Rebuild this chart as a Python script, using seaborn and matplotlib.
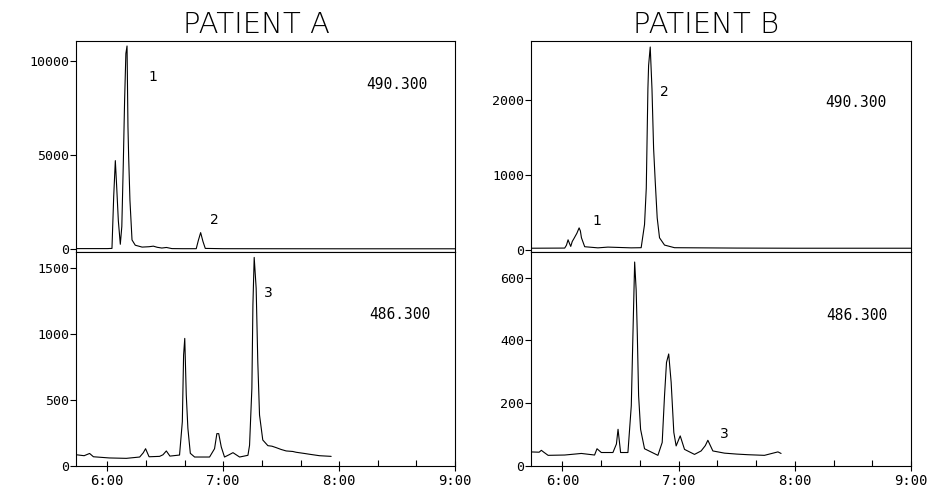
import numpy as np
import pandas as pd
import matplotlib
matplotlib.use("Agg")
import matplotlib.pyplot as plt
from matplotlib.ticker import FixedLocator, MultipleLocator
import seaborn as sns

# -----------------------------
# chromatogram traces (time in minutes, intensity in counts)
# -----------------------------
a490_time = [5.733, 6.00, 6.040, 6.055, 6.069, 6.080, 6.095, 6.112, 6.125, 6.138,
             6.149, 6.160, 6.170, 6.178, 6.184, 6.195, 6.213, 6.241, 6.30, 6.36,
             6.397, 6.43, 6.47, 6.51, 6.557, 6.65, 6.767, 6.785, 6.805, 6.825,
             6.845, 7.0, 8.0, 9.0]
a490_signal = [20, 20, 30, 2800, 4700, 3400, 1500, 250, 1200, 4600,
               7900, 10400, 10800, 6500, 4900, 2600, 480, 200, 100, 120,
               150, 90, 50, 80, 20, 15, 15, 450, 870, 400,
               30, 15, 10, 10]

a486_time = [5.733, 5.80, 5.847, 5.88, 6.017, 6.164, 6.279, 6.31, 6.33, 6.36,
             6.451, 6.48, 6.509, 6.54, 6.623, 6.647, 6.658, 6.668, 6.681, 6.695,
             6.716, 6.753, 6.882, 6.925, 6.945, 6.961, 6.983, 7.011, 7.05, 7.084,
             7.141, 7.213, 7.227, 7.247, 7.256, 7.267, 7.284, 7.298, 7.313, 7.341,
             7.385, 7.42, 7.457, 7.5, 7.543, 7.6, 7.629, 7.70, 7.744, 7.83, 7.931]
a486_signal = [85, 78, 95, 70, 61, 58, 68, 100, 131, 70,
               73, 85, 114, 75, 83, 335, 840, 966, 538, 285,
               96, 68, 68, 131, 245, 245, 144, 68, 85, 101,
               68, 81, 157, 588, 1220, 1579, 1345, 790, 386, 197,
               154, 150, 139, 125, 114, 110, 104, 95, 89, 78, 73]

b490_time = [5.72, 6.02, 6.035, 6.049, 6.062, 6.072, 6.085, 6.100, 6.125, 6.144,
             6.155, 6.164, 6.192, 6.306, 6.392, 6.592, 6.678, 6.707, 6.722, 6.736,
             6.742, 6.756, 6.771, 6.785, 6.799, 6.816, 6.836, 6.879, 6.965, 7.5,
             8.0, 9.0]
b490_signal = [20, 22, 60, 132, 80, 44, 110, 150, 220, 291,
               250, 160, 40, 25, 35, 25, 27, 336, 821, 2145,
               2454, 2700, 2145, 1350, 910, 424, 159, 62, 27, 22,
               20, 20]

b486_time = [5.72, 5.80, 5.819, 5.84, 5.877, 6.020, 6.163, 6.277, 6.298, 6.335,
             6.435, 6.465, 6.479, 6.501, 6.564, 6.593, 6.607, 6.622, 6.635, 6.645,
             6.656, 6.673, 6.707, 6.822, 6.859, 6.879, 6.896, 6.915, 6.936, 6.959,
             6.979, 7.014, 7.051, 7.137, 7.194, 7.230, 7.252, 7.295, 7.395, 7.50,
             7.597, 7.739, 7.855, 7.882]
b486_signal = [45, 44, 50, 44, 34, 35, 40, 35, 55, 43,
               43, 70, 117, 43, 43, 192, 416, 650, 560, 416,
               224, 117, 55, 34, 75, 224, 330, 357, 267, 107,
               64, 96, 53, 37, 48, 65, 82, 48, 41, 38,
               36, 34, 45, 40]

time_ticks = [6, 7, 8, 9]
time_labels = ["6:00", "7:00", "8:00", "9:00"]

# -----------------------------
# figure layout
# -----------------------------
sns.set_style("white")
plt.rcParams["font.family"] = ["DejaVu Sans"]
plt.rcParams["text.color"] = "black"
plt.rcParams["xtick.color"] = "black"
plt.rcParams["ytick.color"] = "black"
mono = "DejaVu Sans Mono"

fig = plt.figure(figsize=(9.41, 4.91), dpi=100)
ax_a490 = fig.add_axes([0.0808, 0.4868, 0.4028, 0.4297])
ax_a486 = fig.add_axes([0.0808, 0.0509, 0.4028, 0.4359])
ax_b490 = fig.add_axes([0.5643, 0.4868, 0.4038, 0.4297])
ax_b486 = fig.add_axes([0.5643, 0.0509, 0.4038, 0.4359])

panels = [
    (ax_a490, a490_time, a490_signal, (-160, 11065), [0, 5000, 10000]),
    (ax_a486, a486_time, a486_signal, (0, 1620), [0, 500, 1000, 1500]),
    (ax_b490, b490_time, b490_signal, (-30, 2780), [0, 1000, 2000]),
    (ax_b486, b486_time, b486_signal, (0, 682), [0, 200, 400, 600]),
]

for ax, t, s, ylim, yticks in panels:
    df = pd.DataFrame({"time": t, "signal": s})
    sns.lineplot(data=df, x="time", y="signal", ax=ax, color="black",
                 linewidth=0.8, sort=False, estimator=None)
    ax.set_xlim(5.73, 9.0)
    ax.set_ylim(*ylim)
    ax.set_xlabel("")
    ax.set_ylabel("")
    ax.yaxis.set_major_locator(FixedLocator(yticks))
    ax.set_yticklabels([str(v) for v in yticks], fontfamily=mono, fontsize=9.5)
    ax.tick_params(axis="y", direction="out", length=4, width=0.8, pad=1,
                   left=True, colors="black")
    for sp in ax.spines.values():
        sp.set_color("black")
        sp.set_linewidth(0.8)

for ax in (ax_a490, ax_b490):
    ax.set_xticks([])

for ax in (ax_a486, ax_b486):
    ax.set_xticks(time_ticks)
    ax.set_xticklabels(time_labels, fontfamily=mono, fontsize=10)
    ax.xaxis.set_minor_locator(MultipleLocator(1 / 3))
    ax.tick_params(axis="x", which="major", direction="inout", length=7,
                   width=0.8, pad=2, bottom=True, colors="black")
    ax.tick_params(axis="x", which="minor", direction="in", length=4,
                   width=0.8, bottom=True, colors="black")

# mass labels
ax_a490.text(8.50, 8725, "490.300", fontfamily=mono, fontsize=10.5,
             ha="center", va="center")
ax_a486.text(8.526, 1144, "486.300", fontfamily=mono, fontsize=10.5,
             ha="center", va="center")
ax_b490.text(8.527, 1959, "490.300", fontfamily=mono, fontsize=10.5,
             ha="center", va="center")
ax_b486.text(8.536, 480, "486.300", fontfamily=mono, fontsize=10.5,
             ha="center", va="center")

# peak numbers
ax_a490.text(6.397, 9150, "1", fontsize=10, ha="center", va="center")
ax_a490.text(6.922, 1540, "2", fontsize=10, ha="center", va="center")
ax_a486.text(7.385, 1308, "3", fontsize=10, ha="center", va="center")
ax_b490.text(6.298, 388, "1", fontsize=10, ha="center", va="center")
ax_b490.text(6.879, 2101, "2", fontsize=10, ha="center", va="center")
ax_b486.text(7.39, 101, "3", fontsize=10, ha="center", va="center")

# titles
fig.text(256 / 941, 1 - 25 / 491, "PATIENT A", fontsize=21, fontweight=200,
         ha="center", va="center")
fig.text(706 / 941, 1 - 25 / 491, "PATIENT B", fontsize=21, fontweight=200,
         ha="center", va="center")

fig.savefig("out.png", dpi=100, facecolor="white")
